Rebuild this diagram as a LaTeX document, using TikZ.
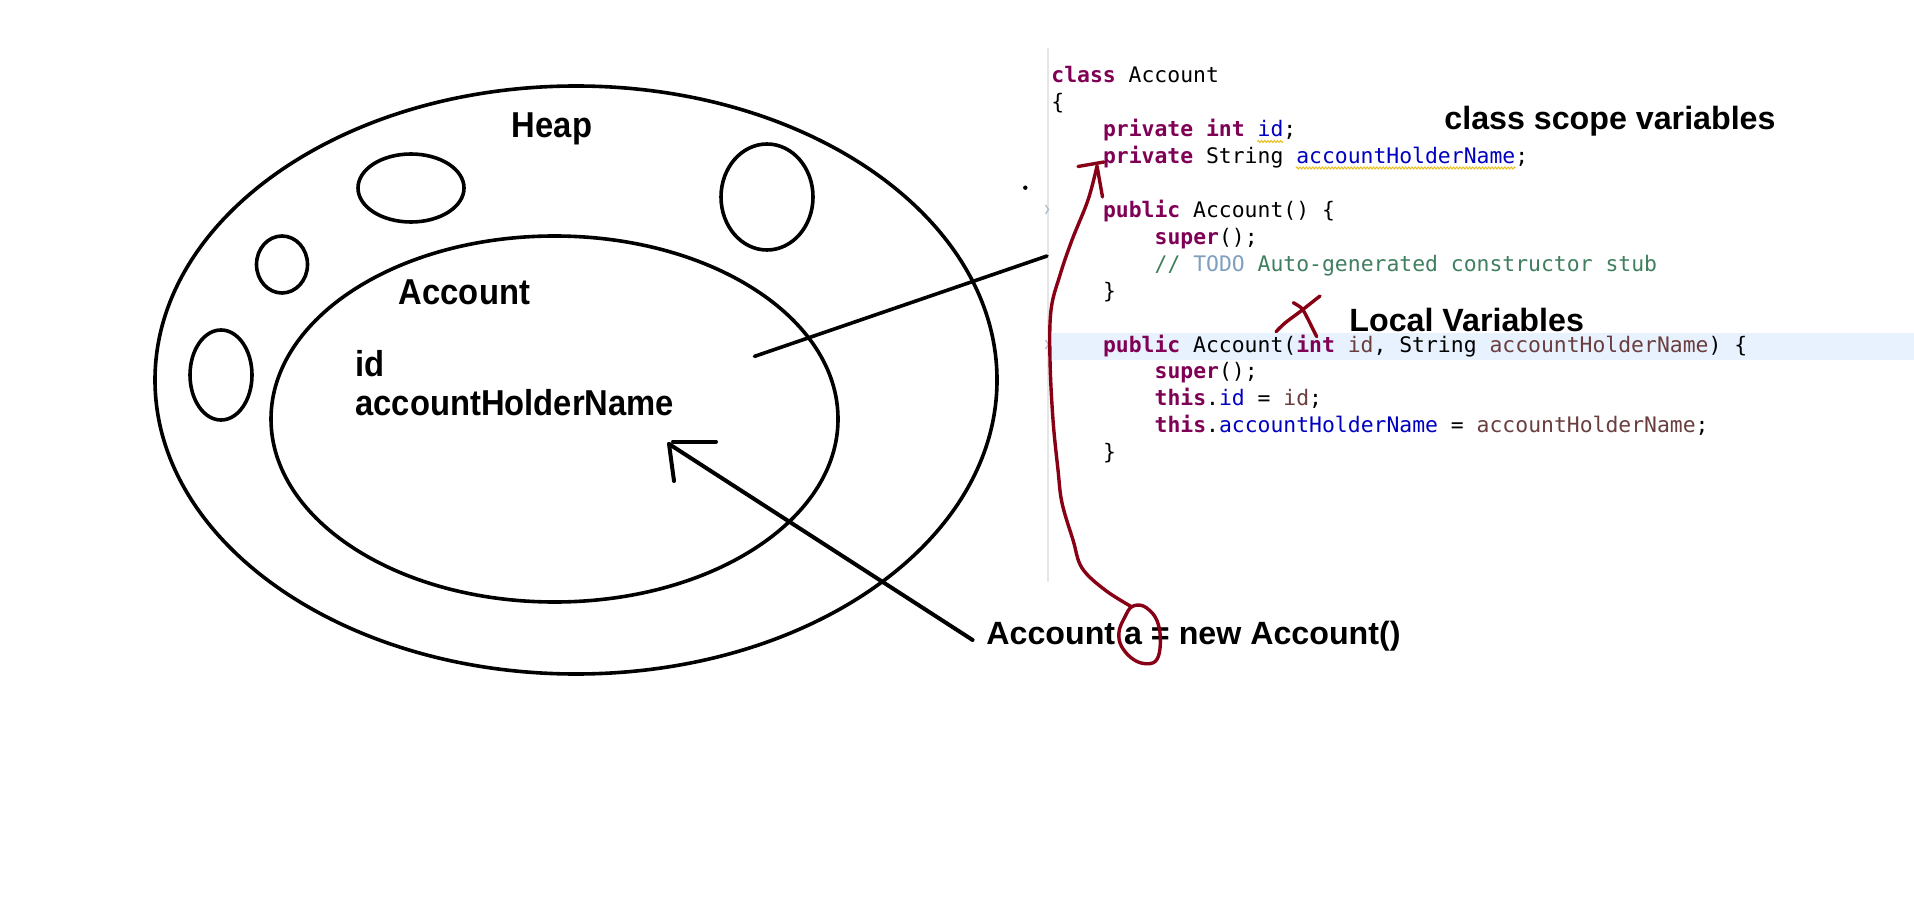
\documentclass[tikz,border=0pt]{standalone}
\usepackage{fontspec}
\usepackage{graphicx}
\setmonofont{DejaVu Sans Mono}
\newfontfamily\labfont{Liberation Sans}
\usetikzlibrary{decorations.pathmorphing}
\definecolor{kwc}{HTML}{7F0055}
\definecolor{fldc}{HTML}{0000C0}
\definecolor{prmc}{HTML}{6A3E3E}
\definecolor{cmtc}{HTML}{3F7F5F}
\definecolor{todoc}{HTML}{7F9FBF}
\definecolor{warnc}{HTML}{E8C020}
\definecolor{redpen}{HTML}{880015}
\definecolor{hlband}{HTML}{E8F2FE}
\definecolor{gutter}{HTML}{E6E6E6}
\definecolor{foldc}{HTML}{A8B8C8}
\newcommand{\kw}[1]{\textcolor{kwc}{\textbf{#1}}}
\newcommand{\fld}[1]{\textcolor{fldc}{#1}}
\newcommand{\prm}[1]{\textcolor{prmc}{#1}}
\newcommand{\cond}[1]{\scalebox{0.91}[1]{#1}}
\tikzset{
  code/.style={anchor=base west, inner sep=0pt, font=\ttfamily\fontsize{10.7pt}{12pt}\selectfont},
  heaplab/.style={anchor=base west, inner sep=0pt, font=\labfont\bfseries\fontsize{18pt}{20pt}\selectfont},
  note/.style={anchor=base west, inner sep=0pt, font=\labfont\bfseries\fontsize{16.1pt}{18pt}\selectfont},
  ink/.style={line width=1.8pt, black},
  thick ink/.style={line width=2pt, black, line cap=round},
  pen/.style={line width=1.7pt, draw=redpen, line cap=round, line join=round},
  wavy/.style={draw=warnc, line width=0.5pt, decorate, decoration={zigzag, segment length=1.6pt, amplitude=0.5pt}},
  fold/.style={draw=foldc, line width=0.6pt}
}
\begin{document}
\begin{tikzpicture}[x=0.5pt,y=-0.5pt]
\useasboundingbox (0,0) rectangle (1914,903);
\fill[white] (0,0) rectangle (1914,903);

% editor background pieces
\fill[hlband] (1052,333) rectangle (1914,359.5);
\draw[gutter, line width=0.6pt] (1048,48) -- (1048,582);
\draw[fold] (1045.5,205) -- (1048.5,209.5) -- (1045.5,214);
\draw[fold] (1045.5,340) -- (1048.5,344.5) -- (1045.5,349);
\fill[black] (1025.3,187.7) circle (1.1pt);

% heap drawing
\draw[ink] (576,380) ellipse [x radius=210.5pt, y radius=147pt];
\draw[ink] (554.5,419) ellipse [x radius=141.75pt, y radius=91.5pt];
\draw[ink] (411,188) ellipse [x radius=26.5pt, y radius=17pt];
\draw[ink] (282,264.5) ellipse [x radius=12.75pt, y radius=14.25pt];
\draw[ink] (221,375) ellipse [x radius=15.5pt, y radius=22.5pt];
\draw[ink] (767,197) ellipse [x radius=23pt, y radius=26.5pt];

\node[heaplab, anchor=base] (heap) at (552,138) {\cond{Heap}};
\node[heaplab] (acct) at (398.5,305) {\cond{Account}};
\node[heaplab] (fid) at (355,376) {\cond{id}};
\node[heaplab] (fname) at (355,415) {\cond{accountHolderName}};

% code
\node[code] (c1) at (1051,83) {\kw{class} Account};
\node[code] (c2) at (1051,109.9) {\{};
\node[code] (c3) at (1102.6,136.8) {\kw{private} \kw{int} \fld{id};};
\node[code] (c4) at (1102.6,163.7) {\kw{private} String \fld{accountHolderName};};
\node[code] (c6) at (1102.6,217.5) {\kw{public} Account() \{};
\node[code] (c7) at (1154.2,244.4) {\kw{super}();};
\node[code] (c8) at (1154.2,271.3) {\textcolor{cmtc}{// \textcolor{todoc}{TODO} Auto-generated constructor stub}};
\node[code] (c9) at (1102.6,298.2) {\}};
\node[code] (c11) at (1102.6,352) {\kw{public} Account(\kw{int} \prm{id}, String \prm{accountHolderName}) \{};
\node[code] (c12) at (1154.2,378.9) {\kw{super}();};
\node[code] (c13) at (1154.2,405.8) {\kw{this}.\fld{id} = \prm{id};};
\node[code] (c14) at (1154.2,432.7) {\kw{this}.\fld{accountHolderName} = \prm{accountHolderName};};
\node[code] (c15) at (1102.6,459.6) {\}};
\draw[wavy] (1257.4,141.5) -- (1283.2,141.5);
\draw[wavy] (1296,168) -- (1515.3,168);

% labels
\node[note] (csv) at (1444,130) {class scope variables};
\node[note] (lv) at (1349,332) {Local Variables};
\node[note] (newexpr) at (986,644) {Account a = new Account()};

% black connectors
\coordinate (objpt) at (754.4,356.4);
\coordinate (codeedge) at (1047,256);
\draw[ink, line cap=round] (objpt) -- (codeedge);
\coordinate (tail) at (972.6,640);
\coordinate (tip) at (669,444);
\draw[thick ink] (tail) -- (tip);
\draw[thick ink] (tip) -- ++(5,37);
\draw[thick ink] (tip) ++(4,-2.5) -- ++(43,0);

% red pen
\coordinate (rtip) at (1097,166);
\coordinate (aloop) at (1132,607);
\draw[pen] (rtip) plot[smooth, tension=0.6] coordinates {(1097,166) (1088,200) (1072,240) (1060,275) (1051,310) (1050,360) (1053,420) (1058,470) (1062,503) (1073,540) (1082,568) (1105,590) (1132,607)};
\draw[pen] (1078,166.5) -- (1104,162);
\draw[pen] (rtip) -- (1102.5,197);
\draw[pen] plot[smooth cycle, tension=0.6] coordinates {(1131.7,606.7) (1143.3,606) (1155,616.7) (1160,633) (1159.3,653) (1153.3,662.7) (1140,662.7) (1128,655) (1120,643) (1119.3,630) (1125,616.7)};
\draw[pen] plot[smooth, tension=0.6] coordinates {(1276,331.7) (1285,323) (1300,311.7) (1320,296)};
\draw[pen] plot[smooth, tension=0.6] coordinates {(1293.3,302.7) (1301.7,308.3) (1306.7,316.7) (1311.7,326.7) (1316.7,336.7)};
\end{tikzpicture}
\end{document}
